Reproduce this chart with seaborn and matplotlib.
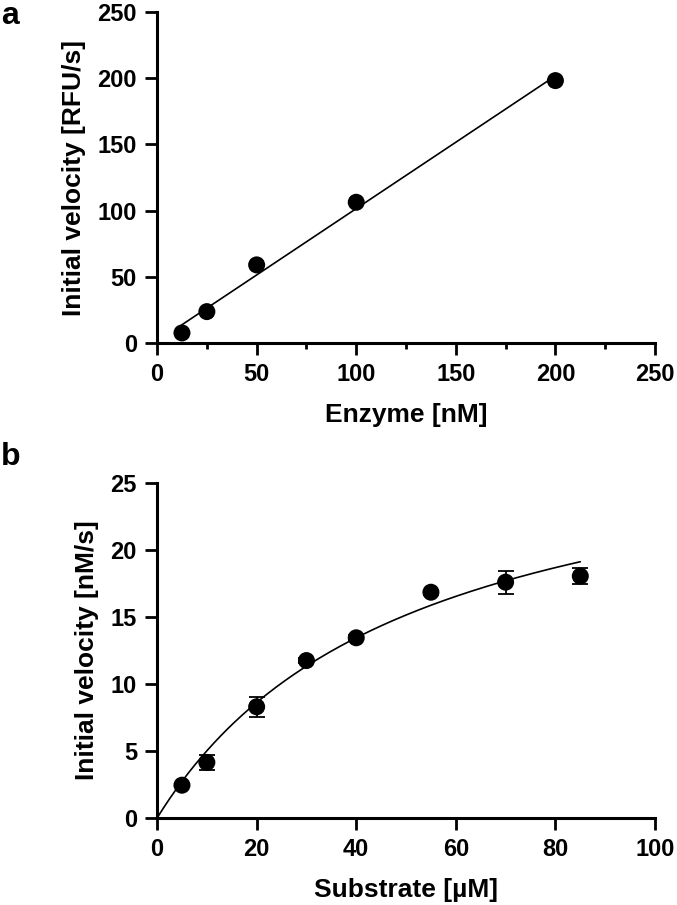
import numpy as np
import pandas as pd
import matplotlib
matplotlib.use("Agg")
import matplotlib.pyplot as plt
import seaborn as sns

# panel a: enzyme titration
enzyme_nM = [12.5, 25, 50, 100, 200]
velocity_rfu = [7.6, 23.7, 59.0, 106.3, 198.2]

# panel b: substrate titration (mean +/- sd)
substrate_uM = [5, 10, 20, 30, 40, 55, 70, 85]
velocity_nm = [2.45, 4.15, 8.3, 11.75, 13.45, 16.85, 17.6, 18.05]
velocity_err = [0.15, 0.56, 0.73, 0.2, 0.2, 0.2, 0.86, 0.58]

# Michaelis-Menten fit parameters for the curve
vmax = 30.6
km = 51.0

sns.set_theme(style="ticks")
plt.rcParams['font.family'] = ['Liberation Sans', 'DejaVu Sans']
plt.rcParams['font.weight'] = 'bold'
plt.rcParams['text.color'] = 'black'
plt.rcParams['axes.labelcolor'] = 'black'

fig = plt.figure(figsize=(6.77, 9.05), dpi=100)
ax_a = fig.add_axes([0.232, 0.621, 0.7355, 0.3657])
ax_b = fig.add_axes([0.232, 0.0961, 0.7355, 0.3702])

tick_size = 17
label_font = {'family': ['Liberation Sans', 'DejaVu Sans'], 'weight': 'bold',
              'size': 19, 'color': 'black'}


def style_axes(ax):
    sns.despine(ax=ax)
    for side in ['left', 'bottom']:
        ax.spines[side].set_linewidth(2.2)
        ax.spines[side].set_color('black')
    ax.tick_params(which='major', length=8.5, width=2.0, color='black',
                   labelsize=tick_size, labelcolor='black', pad=6)
    ax.tick_params(which='minor', length=4.5, width=2.0, color='black')
    for lab in ax.get_xticklabels() + ax.get_yticklabels():
        lab.set_fontweight('bold')
    ax.set_facecolor('white')


# ---- panel a
df_a = pd.DataFrame({'enzyme': enzyme_nM, 'velocity': velocity_rfu})
sns.regplot(data=df_a, x='enzyme', y='velocity', ax=ax_a, ci=None,
            scatter_kws={'s': 150, 'color': 'black', 'alpha': 1,
                         'edgecolors': 'none', 'zorder': 3},
            line_kws={'color': 'black', 'linewidth': 1.2})
ax_a.set_xlim(0, 250)
ax_a.set_ylim(0, 250)
ax_a.set_xticks([0, 50, 100, 150, 200, 250])
ax_a.set_xticks([25, 75, 125, 175, 225], minor=True)
ax_a.set_yticks([0, 50, 100, 150, 200, 250])
ax_a.set_xlabel('Enzyme [nM]', fontdict=label_font, labelpad=12)
ax_a.set_ylabel('Initial velocity [RFU/s]', fontdict=label_font, labelpad=8)
style_axes(ax_a)

# ---- panel b
df_b = pd.DataFrame({'substrate': substrate_uM, 'velocity': velocity_nm, 'err': velocity_err})
s_fit = np.linspace(0, max(substrate_uM), 200)
v_fit = vmax * s_fit / (km + s_fit)
sns.lineplot(x=s_fit, y=v_fit, ax=ax_b, color='black', linewidth=1.2)
ax_b.errorbar(df_b['substrate'], df_b['velocity'], yerr=df_b['err'], fmt='none',
              ecolor='black', elinewidth=1.3, capsize=6, capthick=1.3, zorder=2)
sns.scatterplot(data=df_b, x='substrate', y='velocity', ax=ax_b, s=150,
                color='black', edgecolor='none', zorder=3)
ax_b.set_xlim(0, 100)
ax_b.set_ylim(0, 25)
ax_b.set_xticks([0, 20, 40, 60, 80, 100])
ax_b.set_yticks([0, 5, 10, 15, 20, 25])
ax_b.set_xlabel('Substrate [µM]', fontdict=label_font, labelpad=12)
ax_b.set_ylabel('Initial velocity [nM/s]', fontdict=label_font, labelpad=8)
style_axes(ax_b)

fig.text(0.002, 0.999, 'a', fontsize=23, fontweight='bold', va='top', ha='left')
fig.text(0.002, 0.512, 'b', fontsize=23, fontweight='bold', va='top', ha='left')

fig.savefig('out.png', dpi=100, facecolor='white')
